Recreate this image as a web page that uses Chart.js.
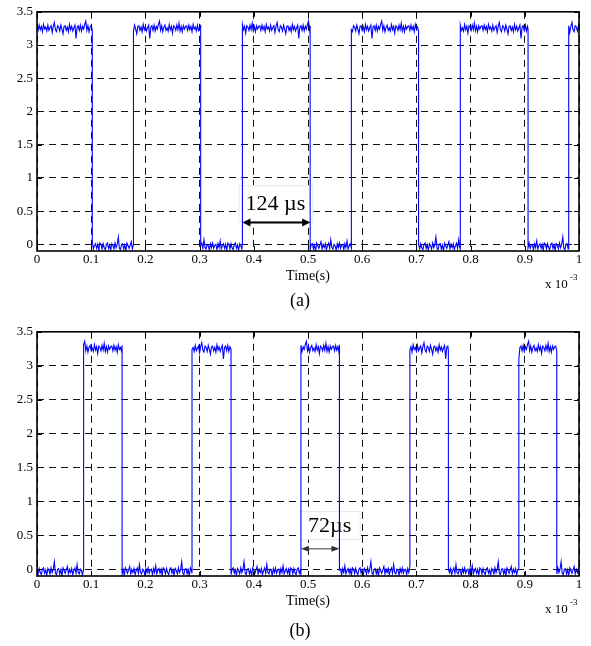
<!DOCTYPE html>
<html>
<head>
<meta charset="utf-8">
<script src="https://cdn.jsdelivr.net/npm/chart.js@4/dist/chart.umd.min.js"></script>
<style>
  body { margin: 0; background: #fff; }
  canvas { position: absolute; left: 0; }
</style>
</head>
<body>
<canvas id="chartA" width="591" height="320" style="top:0"></canvas>
<canvas id="chartB" width="591" height="326" style="top:320px"></canvas>
<script>
// time axis in units of 1e-3 s
const xTicks = [0, 0.1, 0.2, 0.3, 0.4, 0.5, 0.6, 0.7, 0.8, 0.9, 1]
const yTicks = [0, 0.5, 1, 1.5, 2, 2.5, 3, 3.5]

// switching instants (x 1e-3 s)
const edgesA = [0, 0.102, 0.178, 0.302, 0.379, 0.504, 0.580, 0.704, 0.781, 0.906, 0.981, 1]
const edgesB = [0, 0.086, 0.157, 0.286, 0.358, 0.487, 0.558, 0.688, 0.759, 0.889, 0.959, 1]
const startHigh = [true, false]
const highLevel = 3.25
const lowLevel = -0.03
const sampleStep = 0.002

// ripple seen on the flat parts (V), typed off the traces
const highRipple = [0.04, -0.03, 0.05, -0.02, 0.03, -0.05, 0.06, -0.01, 0.02, -0.04, 0.05, -0.03, 0.01, 0.04,
  -0.06, 0.03, 0.09, -0.02, -0.05, 0.04, 0.02, -0.04, 0.05, -0.01, -0.08, 0.03, 0.04, -0.03, 0.02, -0.05, 0.06,
  -0.02, 0.03, -0.04, 0.01, 0.05, -0.15, 0.02, 0.04, -0.03, 0.05, -0.04, 0.03, -0.01, 0.06, 0.11, -0.03, 0.04,
  -0.05, 0.02, 0.05, -0.03, 0.01, -0.04, 0.06, -0.02, 0.03, -0.07, 0.04, 0.02, -0.03, 0.05, -0.02, 0.08, -0.04,
  0.03, -0.05, 0.04, -0.01, 0.03]
const lowRipple = [0.03, -0.04, 0.04, -0.02, -0.05, 0.03, 0.05, -0.03, 0.02, -0.06, 0.04, 0.01, -0.04, 0.05,
  -0.02, 0.03, 0.14, -0.03, -0.05, 0.03, 0.04, -0.04, 0.02, -0.07, 0.05, 0.01, -0.03, 0.02, 0.07, -0.04, 0.03,
  -0.02, 0.04, -0.05, 0.01, 0.05, -0.03, 0.10, -0.02, -0.04, 0.03, 0.01, -0.06, 0.04, -0.02, 0.05, -0.03, 0.02,
  0.03, -0.05, 0.04, -0.02, 0.08, -0.04, 0.01, 0.04, -0.03, 0.03, -0.06, 0.05]

// pulse-width markers
const noteText = ['124 µs', '72µs']
const noteFrom = [0.379, 0.487]
const noteTo = [0.504, 0.558]
const noteLevel = [0.33, 0.30]
const panelLabels = ['(a)', '(b)']

const serif = '"Liberation Serif", "DejaVu Serif", serif'

const buildSignal = (edges, high) => {
  const points = []
  let k = 0
  for (let s = 0; s < edges.length - 1; s++) {
    const isHigh = (s % 2 === 0) === high
    const level = isHigh ? highLevel : lowLevel
    const ripple = isHigh ? highRipple : lowRipple
    for (let t = edges[s]; t < edges[s + 1] - 1e-9; t += sampleStep) {
      points.push({ x: t, y: level + ripple[k++ % ripple.length] })
    }
    points.push({ x: edges[s + 1], y: level + ripple[k++ % ripple.length] })
  }
  return points
}

const arrowHead = (ctx, x, y, dir, len, half) => {
  ctx.beginPath()
  ctx.moveTo(x, y)
  ctx.lineTo(x - dir * len, y - half)
  ctx.lineTo(x - dir * len, y + half)
  ctx.closePath()
  ctx.fill()
}

const framePlugin = {
  id: 'frame',
  beforeDatasetsDraw (chart, args, opts) {
    const { ctx, scales: { x, y } } = chart
    const cx = x.getPixelForValue(opts.textX)
    const cy = y.getPixelForValue(opts.textY)
    ctx.save()
    ctx.fillStyle = '#fff'
    ctx.fillRect(cx - opts.boxW / 2, cy - opts.boxH / 2, opts.boxW, opts.boxH)
    ctx.strokeStyle = '#e8e8e8'
    ctx.lineWidth = 1
    ctx.strokeRect(cx - opts.boxW / 2 + 0.5, cy - opts.boxH / 2 + 0.5, opts.boxW, opts.boxH)
    ctx.restore()
  },
  afterDatasetsDraw (chart, args, opts) {
    const { ctx, chartArea: a, scales: { x, y } } = chart
    ctx.save()
    // inward tick marks
    ctx.strokeStyle = '#000'
    ctx.lineWidth = 1
    ctx.beginPath()
    xTicks.forEach(v => {
      const px = Math.round(x.getPixelForValue(v)) + 0.5
      ctx.moveTo(px, a.bottom); ctx.lineTo(px, a.bottom - 5)
      ctx.moveTo(px, a.top); ctx.lineTo(px, a.top + 5)
    })
    yTicks.forEach(v => {
      const py = Math.round(y.getPixelForValue(v)) + 0.5
      ctx.moveTo(a.left, py); ctx.lineTo(a.left + 5, py)
      ctx.moveTo(a.right, py); ctx.lineTo(a.right - 5, py)
    })
    ctx.stroke()
    // axes box
    ctx.lineWidth = 1.6
    ctx.strokeRect(a.left, a.top, a.right - a.left, a.bottom - a.top)

    // width arrow
    const i = opts.index
    const x1 = x.getPixelForValue(noteFrom[i])
    const x2 = x.getPixelForValue(noteTo[i])
    const ay = y.getPixelForValue(noteLevel[i])
    ctx.strokeStyle = opts.arrowColor
    ctx.fillStyle = opts.arrowColor
    ctx.lineWidth = opts.arrowWidth
    ctx.beginPath()
    ctx.moveTo(x1 + 4, ay); ctx.lineTo(x2 - 4, ay)
    ctx.stroke()
    arrowHead(ctx, x1, ay, -1, 8, opts.arrowWidth + 2)
    arrowHead(ctx, x2, ay, 1, 8, opts.arrowWidth + 2)

    // width text
    ctx.fillStyle = '#000'
    ctx.font = `22px ${serif}`
    ctx.textAlign = 'center'
    ctx.textBaseline = 'middle'
    ctx.fillText(noteText[i], x.getPixelForValue(opts.textX), y.getPixelForValue(opts.textY) + 1)

    // exponent
    ctx.textAlign = 'left'
    ctx.textBaseline = 'alphabetic'
    ctx.font = `13px ${serif}`
    ctx.fillText('x 10', a.right - 34, a.bottom + 37)
    ctx.font = `9px ${serif}`
    ctx.fillText('-3', a.right - 9, a.bottom + 29)

    // panel label
    ctx.font = `18px ${serif}`
    ctx.textAlign = 'center'
    ctx.fillText(panelLabels[i], 300, opts.labelY)
    ctx.restore()
  }
}

const makeChart = (id, index, layout, note) => new Chart(document.getElementById(id), {
  type: 'line',
  data: {
    datasets: [{
      data: buildSignal(index === 0 ? edgesA : edgesB, startHigh[index]),
      borderColor: '#0000ff',
      borderWidth: 1.1,
      pointRadius: 0,
      tension: 0
    }]
  },
  options: {
    responsive: false,
    animation: false,
    events: [],
    layout: { padding: { top: layout.top, left: 0, right: 12, bottom: layout.bottom } },
    plugins: {
      legend: { display: false },
      tooltip: { enabled: false },
      frame: { index, ...note, labelY: layout.labelY }
    },
    scales: {
      x: {
        type: 'linear',
        min: 0,
        max: 1,
        afterBuildTicks: scale => { scale.ticks = xTicks.map(value => ({ value })) },
        afterFit: scale => { scale.height = layout.axisHeight },
        ticks: { color: '#000', padding: 1, maxRotation: 0, font: { family: serif, size: 13 }, callback: value => `${value}` },
        grid: { color: '#111', lineWidth: 1, drawTicks: false },
        border: { display: false, dash: [7, 5] },
        title: { display: true, text: 'Time(s)', color: '#000', padding: 0, font: { family: serif, size: 14 } }
      },
      y: {
        type: 'linear',
        min: -0.1,
        max: 3.5,
        afterBuildTicks: scale => { scale.ticks = yTicks.map(value => ({ value })) },
        afterFit: scale => { scale.width = 37 },
        ticks: { color: '#000', padding: 4, font: { family: serif, size: 13 }, callback: value => `${value}` },
        grid: { color: '#111', lineWidth: 1, drawTicks: false },
        border: { display: false, dash: [7, 5] }
      }
    }
  },
  plugins: [framePlugin]
})

makeChart('chartA', 0, { top: 7, bottom: 35.6, axisHeight: 33.4, labelY: 306 },
  { textX: 0.440, textY: 0.62, boxW: 74, boxH: 36, arrowColor: '#000', arrowWidth: 2 })
makeChart('chartB', 1, { top: 8, bottom: 36.6, axisHeight: 33.4, labelY: 316 },
  { textX: 0.540, textY: 0.65, boxW: 60, boxH: 28, arrowColor: '#333', arrowWidth: 1 })
</script>
</body>
</html>
